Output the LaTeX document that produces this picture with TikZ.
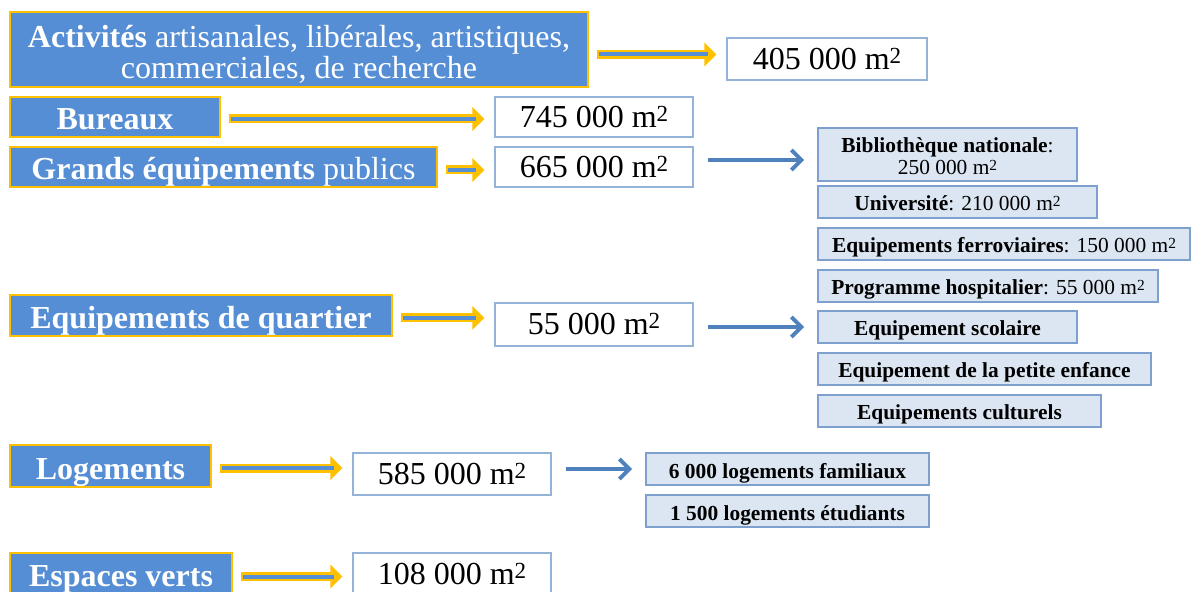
\documentclass[tikz,border=0pt]{standalone}
\usepackage{fontspec}
\setmainfont{Liberation Serif}
\usetikzlibrary{arrows.meta}
\pgfdeclarelayer{edgelayer}
\pgfdeclarelayer{nodelayer}
\pgfsetlayers{edgelayer,nodelayer,main}
\definecolor{boxblue}{RGB}{85,142,213}
\definecolor{gold}{RGB}{255,192,0}
\definecolor{paleblue}{RGB}{220,230,242}
\definecolor{lineblue}{RGB}{149,179,215}
\definecolor{subline}{RGB}{126,160,206}
\definecolor{arrowblue}{RGB}{79,129,189}
\newcommand{\sqm}{m\raisebox{0.2em}{\scalebox{0.72}{2}}}
\tikzstyle{mainbox}=[draw=gold, fill=boxblue, text=white, line width=0.75pt, inner sep=0pt, align=center, text height=13pt, text depth=0pt, font=\fontsize{16}{15.5}\selectfont]
\tikzstyle{valbox}=[draw=lineblue, fill=white, line width=0.6pt, inner sep=0pt, text height=10.5pt, text depth=0pt, font=\fontsize{16}{16}\selectfont]
\tikzstyle{subbox}=[draw=subline, fill=paleblue, line width=0.8pt, inner sep=0pt, align=center, text height=9pt, text depth=0pt, font=\fontsize{10.7}{11}\selectfont]
\tikzstyle{goldarrow}=[draw=gold, line width=4.5pt, -{Triangle[length=6pt,width=11.5pt]}, shorten <=4pt, shorten >=5pt, postaction={draw=boxblue, line width=2pt, -, shorten <=5pt, shorten >=9pt}]
\tikzstyle{bluearrow}=[draw=arrowblue, line width=2pt, -{Straight Barb[length=5pt,width=10pt]}, shorten <=7pt, shorten >=6.5pt]

\begin{document}
\begin{tikzpicture}[x=0.5pt, y=-0.5pt]
	\useasboundingbox (0,0) rectangle (1197,592);
	\begin{pgfonlayer}{nodelayer}
		% left column
		\node [style=mainbox, minimum width=289pt, minimum height=37.5pt, text height=29pt] (act) at (299, 49.5) {\textbf{Activités} artisanales, libérales, artistiques,\\commerciales, de recherche};
		\node [style=mainbox, minimum width=105pt, minimum height=20pt] (bur) at (115, 117) {\textbf{Bureaux}};
		\node [style=mainbox, minimum width=213.5pt, minimum height=20pt] (geq) at (223.5, 167) {\textbf{Grands équipements} publics};
		\node [style=mainbox, minimum width=191pt, minimum height=20.5pt] (quart) at (201, 315.5) {\textbf{Equipements de quartier}};
		\node [style=mainbox, minimum width=100.5pt, minimum height=21pt] (log) at (110.5, 466) {\textbf{Logements}};
		\node [style=mainbox, minimum width=111pt, minimum height=20.5pt] (esp) at (121, 573.5) {\textbf{Espaces verts}};
		% surfaces
		\node [style=valbox, minimum width=100pt, minimum height=21pt] (actval) at (827, 59) {405 000 \sqm};
		\node [style=valbox, minimum width=99pt, minimum height=20pt] (burval) at (594, 117) {745 000 \sqm};
		\node [style=valbox, minimum width=99pt, minimum height=20pt] (geqval) at (594, 167) {665 000 \sqm};
		\node [style=valbox, minimum width=99pt, minimum height=21.5pt] (quartval) at (594, 324.5) {55 000 \sqm};
		\node [style=valbox, minimum width=99pt, minimum height=21pt] (logval) at (452, 474) {585 000 \sqm};
		\node [style=valbox, minimum width=99pt, minimum height=21pt] (espval) at (452, 574) {108 000 \sqm};
		% details
		\node [style=subbox, minimum width=129.5pt, minimum height=26.5pt, text height=20pt] (bib) at (947.5, 154.5) {\textbf{Bibliothèque nationale}:\\250 000 \sqm};
		\node [style=subbox, minimum width=139.5pt, minimum height=16pt] (univ) at (957.5, 202) {\textbf{Université}: 210 000 \sqm};
		\node [style=subbox, minimum width=186pt, minimum height=16pt] (ferro) at (1004, 244) {\textbf{Equipements ferroviaires}: 150 000 \sqm};
		\node [style=subbox, minimum width=170pt, minimum height=16pt] (hosp) at (988, 286) {\textbf{Programme hospitalier}: 55 000 \sqm};
		\node [style=subbox, minimum width=129.5pt, minimum height=16pt] (scol) at (947.5, 327) {\textbf{Equipement scolaire}};
		\node [style=subbox, minimum width=166.5pt, minimum height=16pt] (enf) at (984.5, 369) {\textbf{Equipement de la petite enfance}};
		\node [style=subbox, minimum width=141.5pt, minimum height=16pt] (cult) at (959.5, 411) {\textbf{Equipements culturels}};
		\node [style=subbox, minimum width=141.5pt, minimum height=16pt] (fam) at (787.5, 469) {\textbf{6 000 logements familiaux}};
		\node [style=subbox, minimum width=141.5pt, minimum height=16pt] (etud) at (787.5, 511) {\textbf{1 500 logements étudiants}};
	\end{pgfonlayer}
	\begin{pgfonlayer}{edgelayer}
		\draw [style=goldarrow] ([yshift=-2.5pt]act.east) to ([yshift=-2.5pt]act.east -| actval.west);
		\draw [style=goldarrow] ([yshift=-1pt]bur.east) to ([yshift=-1pt]bur.east -| burval.west);
		\draw [style=goldarrow] ([yshift=-1.5pt]geq.east) to ([yshift=-1.5pt]geq.east -| geqval.west);
		\draw [style=goldarrow] ([yshift=-1.2pt]quart.east) to ([yshift=-1.2pt]quart.east -| quartval.west);
		\draw [style=goldarrow] ([yshift=-1pt]log.east) to ([yshift=-1pt]log.east -| logval.west);
		\draw [style=goldarrow] ([yshift=-1.5pt]esp.east) to ([yshift=-1.5pt]esp.east -| espval.west);
		\draw [style=bluearrow] ([yshift=3.5pt]geqval.east) to ([yshift=3.5pt]geqval.east -| bib.west);
		\draw [style=bluearrow] (quartval.east |- scol.west) to (scol.west);
		\draw [style=bluearrow] (logval.east |- fam.west) to (fam.west);
	\end{pgfonlayer}
\end{tikzpicture}
\end{document}
